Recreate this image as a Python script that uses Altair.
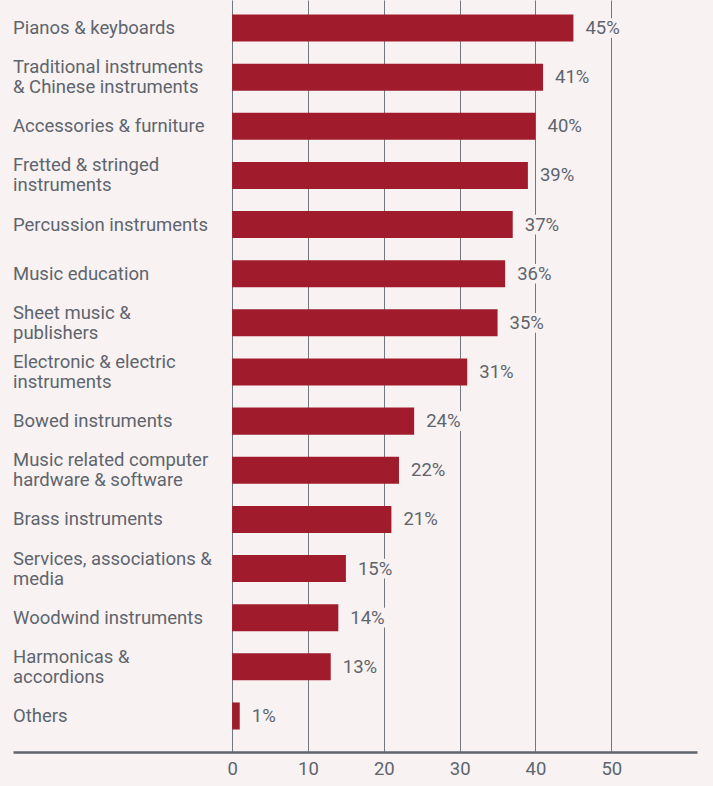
import altair as alt
import pandas as pd

categories = [
    "Pianos & keyboards",
    "Traditional instruments\n& Chinese instruments",
    "Accessories & furniture",
    "Fretted & stringed\ninstruments",
    "Percussion instruments",
    "Music education",
    "Sheet music &\npublishers",
    "Electronic & electric\ninstruments",
    "Bowed instruments",
    "Music related computer\nhardware & software",
    "Brass instruments",
    "Services, associations &\nmedia",
    "Woodwind instruments",
    "Harmonicas &\naccordions",
    "Others",
]
values = [45, 41, 40, 39, 37, 36, 35, 31, 24, 22, 21, 15, 14, 13, 1]
tick_values = [0, 10, 20, 30, 40, 50]

BG = "#f8f2f3"
BAR = "#a01c2c"
TXT = "#5e656d"
XMIN, XMAX = -28.9, 61.3
FONT = "Roboto"
FS = 18.5
LINE_H = 20
STEP_PX = 49.14

df = pd.DataFrame({"cat": categories, "val": values, "idx": list(range(len(values)))})
df["label"] = df["val"].astype(str) + "%"
df["nlines"] = df["cat"].str.count("\n") + 1
df["yl"] = df["idx"] - (df["nlines"] - 1) * (LINE_H / 2) / STEP_PX

xs = alt.Scale(domain=[XMIN, XMAX], nice=False, zero=False)
ys = alt.Scale(domain=[-0.57, 14.733], nice=False, zero=False, reverse=True)

base = alt.Chart(df)

bars = base.transform_calculate(
    y0="datum.idx - 0.275", y1="datum.idx + 0.275", x0="0"
).mark_rect(color=BAR).encode(
    x=alt.X("x0:Q", scale=xs, axis=alt.Axis(
        values=tick_values, title=None, grid=True, gridColor="#73787e", gridWidth=1,
        domain=True, domainColor="#5e656d", domainWidth=2.5, ticks=False,
        labelFont=FONT, labelFontSize=FS, labelColor=TXT, labelPadding=7,
    )),
    x2="val:Q",
    y=alt.Y("y0:Q", scale=ys, axis=None),
    y2="y1:Q",
)

label_bg = base.transform_calculate(
    y0="datum.idx - 0.2", y1="datum.idx + 0.2", xa="datum.val + 1.2", xb="datum.val + 6.8"
).mark_rect(color=BG).encode(
    x=alt.X("xa:Q", scale=xs), x2="xb:Q",
    y=alt.Y("y0:Q", scale=ys), y2="y1:Q",
)

vals = base.mark_text(
    align="left", baseline="middle", dx=12, font=FONT, fontSize=FS, color=TXT
).encode(
    x=alt.X("val:Q", scale=xs),
    y=alt.Y("idx:Q", scale=ys),
    text="label:N",
)

cats = base.transform_calculate(xl=str(XMIN)).mark_text(
    align="left", baseline="middle", font=FONT, fontSize=FS, color=TXT,
    lineBreak="\n", lineHeight=LINE_H,
).encode(
    x=alt.X("xl:Q", scale=xs),
    y=alt.Y("yl:Q", scale=ys),
    text="cat:N",
)

chart = alt.layer(bars, label_bg, vals, cats).properties(
    width=684, height=752, background=BG,
    padding={"left": 13, "top": 0, "right": 16, "bottom": 34},
    autosize=alt.AutoSizeParams(type="none"),
).configure_view(stroke=None)

chart.save("out.html", embed_options={"renderer": "svg", "actions": False})
